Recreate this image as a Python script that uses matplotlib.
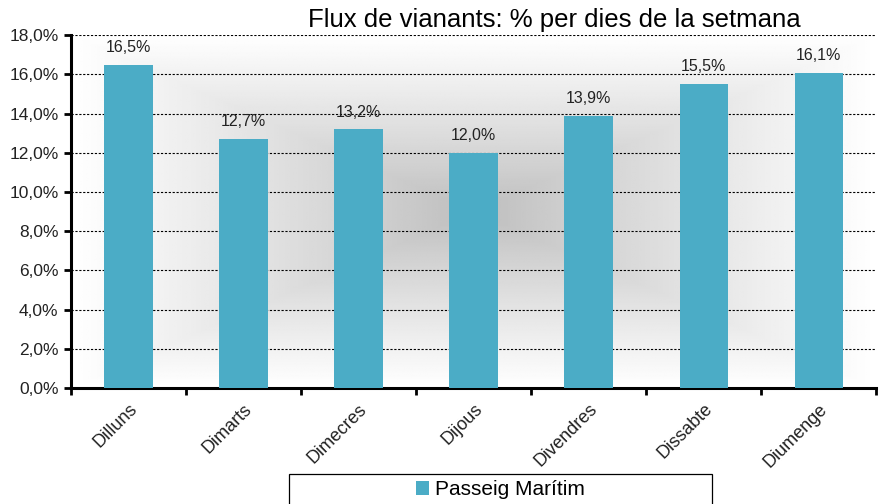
import numpy as np
import matplotlib.pyplot as plt
from matplotlib.patches import Rectangle
from matplotlib.ticker import FuncFormatter, FixedLocator

plt.rcParams['font.family'] = ['Liberation Sans', 'DejaVu Sans']

days = ['Dilluns', 'Dimarts', 'Dimecres', 'Dijous', 'Divendres', 'Dissabte', 'Diumenge']
values = [16.5, 12.7, 13.2, 12.0, 13.9, 15.5, 16.1]
series_name = 'Passeig Marítim'
title = 'Flux de vianants: % per dies de la setmana'

bar_color = '#4bacc6'

fig = plt.figure(figsize=(8.86, 5.04), dpi=100)
ax = fig.add_axes([0.080, 0.230, 0.909, 0.700])

x = np.arange(len(days))
ax.set_xlim(-0.5, len(days) - 0.5)
ax.set_ylim(0, 18)

# rectangular "from centre" gradient background
n = 300
u = np.linspace(-1, 1, n)
U, V = np.meshgrid(u, u)
t = np.maximum(np.abs(U), np.abs(V))
t = np.clip(t, 0, 1) ** 0.9
shade = 0.74 + 0.26 * t
ax.imshow(shade, cmap='gray', vmin=0, vmax=1, extent=[-0.5, len(days) - 0.5, 0, 18],
          aspect='auto', zorder=0, interpolation='bilinear')

ax.set_yticks(np.arange(0, 19, 2))
ax.yaxis.grid(True, linestyle=(0, (2, 1.5)), color='black', linewidth=0.8)
ax.set_axisbelow(True)

bars = ax.bar(x, values, width=0.42, color=bar_color, zorder=3, label=series_name)
for xi, v in zip(x, values):
    ax.text(xi, v + 0.5, '{:.1f}%'.format(v).replace('.', ','), ha='center', va='bottom',
            fontsize=11.5, color='#222222', zorder=4)

ax.yaxis.set_major_formatter(FuncFormatter(lambda v, p: '{:.1f}%'.format(v).replace('.', ',')))
ax.xaxis.set_major_locator(FixedLocator(np.arange(-0.5, len(days), 1)))
ax.set_xticklabels([])
ax.set_xticks(x, minor=True)
ax.set_xticklabels(days, minor=True, rotation=45, ha='right', rotation_mode='anchor',
                   fontsize=13, color='#222222')
ax.tick_params(axis='x', which='minor', length=0, pad=9)
ax.tick_params(axis='x', which='major', length=5, width=2, direction='out')
ax.tick_params(axis='y', length=5, width=2, direction='out', labelsize=12.5, pad=4,
               labelcolor='#222222')

for s in ['top', 'right']:
    ax.spines[s].set_visible(False)
for s in ['left', 'bottom']:
    ax.spines[s].set_linewidth(2.2)

fig.text(0.626, 0.985, title, ha='center', va='top', fontsize=18.5)

# legend box (runs off the bottom edge like the original)
fig.patches.append(Rectangle((0.326, -0.05), 0.478, 0.1095, transform=fig.transFigure,
                             facecolor='white', edgecolor='black', linewidth=0.9))
leg = fig.legend(handles=[bars], labels=[series_name], loc='center',
                 bbox_to_anchor=(0.565, 0.028), fontsize=15, frameon=False,
                 handlelength=0.6, handleheight=0.6, handletextpad=0.3, borderpad=0.1)

fig.savefig('out.png', dpi=100)
